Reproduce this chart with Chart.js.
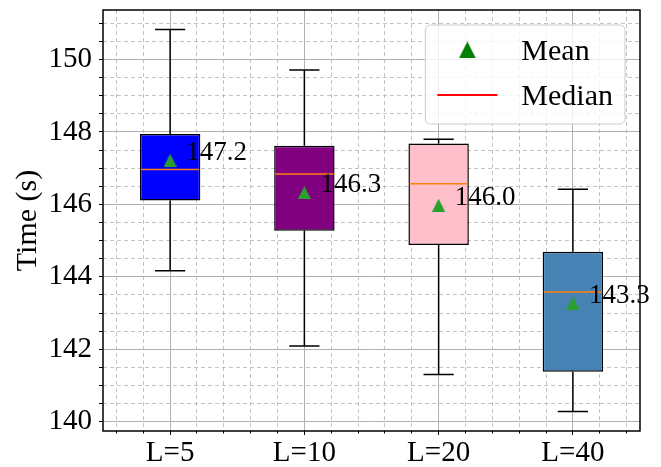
<!DOCTYPE html>
<html lang="en">
<head>
<meta charset="UTF-8">
<title>Time boxplot</title>
<script src="https://cdn.jsdelivr.net/npm/chart.js"></script>
<style>
  body { margin: 0; background: #fff; }
</style>
</head>
<body>
<canvas id="grafico" width="661" height="467"></canvas>
<script>
// dados
const categories = ['L=5', 'L=10', 'L=20', 'L=40']
const positions = [1, 2, 3, 4]
const whiskerLow = [144.17, 142.09, 141.30, 140.28]
const q1 = [146.11, 145.27, 144.88, 141.38]
const medians = [146.96, 146.84, 146.57, 143.58]
const q3 = [147.94, 147.62, 147.68, 144.69]
const whiskerHigh = [150.83, 149.71, 147.80, 146.42]
const means = [147.22, 146.33, 145.98, 143.27]
const boxColors = ['#0000ff', '#800080', '#ffc0cb', '#4682b4']
const legendLabels = ['Mean', 'Median']
const yTickLabels = [140, 142, 144, 146, 148, 150]

const serif = "'Liberation Serif', 'Times New Roman', serif"
Chart.defaults.font.family = serif
Chart.defaults.color = '#000'

// ticks menores (grade tracejada)
const yMinorTicks = []
for (let v = 140; v <= 151; v += 0.5) yMinorTicks.push(v)
const xMinorTicks = []
for (let k = 3; k <= 22; k++) { if (k % 5 !== 0) xMinorTicks.push(k / 5) }

function triangulo(size, color) {
  const c = document.createElement('canvas')
  c.width = size; c.height = size
  const g = c.getContext('2d')
  g.fillStyle = color
  g.beginPath()
  g.moveTo(size / 2, 0); g.lineTo(size, size); g.lineTo(0, size)
  g.closePath(); g.fill()
  return c
}
const meanMarker = triangulo(13, '#2ca02c')
const legendMarker = triangulo(17, '#008000')

const majorGrid = '#b0b0b0'
const minorGrid = 'rgba(176,176,176,0.75)'

const extras = {
  id: 'extras',
  afterDatasetsDraw(chart) {
    const ctx = chart.ctx, y = chart.scales.y, x = chart.scales.x
    const bars = chart.getDatasetMeta(1).data
    ctx.save()
    bars.forEach((bar, i) => {
      const half = bar.width / 2, cap = bar.width / 4
      ctx.strokeStyle = '#000'
      ctx.lineWidth = 1.5
      ctx.beginPath()
      ctx.moveTo(bar.x, y.getPixelForValue(whiskerHigh[i])); ctx.lineTo(bar.x, y.getPixelForValue(q3[i]))
      ctx.moveTo(bar.x, y.getPixelForValue(q1[i])); ctx.lineTo(bar.x, y.getPixelForValue(whiskerLow[i]))
      ctx.moveTo(bar.x - cap, y.getPixelForValue(whiskerHigh[i])); ctx.lineTo(bar.x + cap, y.getPixelForValue(whiskerHigh[i]))
      ctx.moveTo(bar.x - cap, y.getPixelForValue(whiskerLow[i])); ctx.lineTo(bar.x + cap, y.getPixelForValue(whiskerLow[i]))
      ctx.stroke()
      ctx.strokeStyle = '#ff7f0e'
      ctx.beginPath()
      ctx.moveTo(bar.x - half + 1, y.getPixelForValue(medians[i])); ctx.lineTo(bar.x + half - 1, y.getPixelForValue(medians[i]))
      ctx.stroke()
    })
    // moldura
    const a = chart.chartArea
    ctx.strokeStyle = '#000'
    ctx.lineWidth = 1.5
    ctx.strokeRect(a.left, a.top, a.right - a.left, a.bottom - a.top)
    // rotulos das medias
    ctx.fillStyle = '#000'
    ctx.font = '27px ' + serif
    ctx.textBaseline = 'alphabetic'
    ctx.textAlign = 'left'
    means.forEach((m, i) => {
      ctx.fillText(m.toFixed(1), x.getPixelForValue(positions[i] + 0.12), y.getPixelForValue(m))
    })
    ctx.restore()
  },
  afterDraw(chart) {
    const ctx = chart.ctx, a = chart.chartArea, fs = 30
    ctx.save()
    ctx.font = fs + 'px ' + serif
    const textW = Math.max(...legendLabels.map(t => ctx.measureText(t).width))
    const w = fs * 3.6 + textW, h = fs * 3.3
    const x0 = a.right - 0.5 * fs - w, y0 = a.top + 0.5 * fs
    ctx.beginPath()
    ctx.roundRect(x0, y0, w, h, 5)
    ctx.fillStyle = 'rgba(255,255,255,0.8)'
    ctx.fill()
    ctx.strokeStyle = '#cccccc'
    ctx.lineWidth = 1
    ctx.stroke()
    const hx = x0 + 0.4 * fs, tx = hx + 2.8 * fs
    const rows = [y0 + 0.83 * fs, y0 + 2.33 * fs]
    ctx.drawImage(legendMarker, hx + fs - legendMarker.width / 2, rows[0] - legendMarker.height / 2)
    ctx.strokeStyle = '#ff0000'
    ctx.lineWidth = 2
    ctx.beginPath()
    ctx.moveTo(hx, rows[1]); ctx.lineTo(hx + 2 * fs, rows[1])
    ctx.stroke()
    ctx.fillStyle = '#000'
    ctx.textBaseline = 'alphabetic'
    legendLabels.forEach((t, i) => ctx.fillText(t, tx, rows[i] + 0.35 * fs))
    ctx.restore()
  }
}

const ctx = document.getElementById('grafico')
new Chart(ctx, {
  type: 'bar',
  data: {
    datasets: [
      {
        type: 'line',
        label: legendLabels[0],
        data: positions.map((p, i) => ({ x: p, y: means[i] })),
        showLine: false,
        pointStyle: meanMarker,
        pointRadius: 6,
        xAxisID: 'x',
        order: 1
      },
      {
        label: 'box',
        data: positions.map((p, i) => ({ x: p, y: [q1[i], q3[i]] })),
        backgroundColor: boxColors,
        borderColor: '#000',
        borderWidth: 1.5,
        borderSkipped: false,
        barPercentage: 0.45,
        categoryPercentage: 1,
        xAxisID: 'x',
        order: 2
      }
    ]
  },
  options: {
    responsive: false,
    animation: false,
    layout: { padding: { top: 10, right: 21, left: 0, bottom: 0 } },
    plugins: { legend: { display: false }, tooltip: { enabled: false } },
    scales: {
      xMinor: {
        type: 'linear', position: 'bottom', weight: -1,
        min: 0.5, max: 4.5, offset: false,
        afterBuildTicks: s => { s.ticks = xMinorTicks.map(v => ({ value: v })) },
        afterFit: s => { s.height = 0; s.paddingLeft = 0; s.paddingRight = 0 },
        ticks: { display: false, autoSkip: false },
        grid: { offset: false, color: minorGrid, lineWidth: 1, tickLength: 2.5, tickColor: '#000', tickBorderDash: [] },
        border: { display: false, dash: [4, 3] }
      },
      x: {
        type: 'linear', position: 'bottom',
        min: 0.5, max: 4.5, offset: false,
        afterBuildTicks: s => { s.ticks = positions.map(v => ({ value: v })) },
        afterFit: s => { s.height = 36; s.paddingLeft = 0; s.paddingRight = 0 },
        ticks: {
          autoSkip: false, maxRotation: 0, padding: 1,
          font: { size: 29 },
          callback: v => categories[positions.indexOf(v)]
        },
        grid: { offset: false, color: majorGrid, lineWidth: 1, tickLength: 4, tickColor: '#000' },
        border: { display: false }
      },
      y: {
        type: 'linear', position: 'left',
        min: 139.743, max: 151.367,
        afterBuildTicks: s => { s.ticks = yMinorTicks.map(v => ({ value: v })) },
        afterFit: s => { s.width = 103; s.paddingTop = 0; s.paddingBottom = 0 },
        ticks: {
          autoSkip: false, padding: 7,
          font: { size: 29 },
          callback: v => yTickLabels.includes(v) ? String(v) : ''
        },
        grid: {
          color: c => (c.tick && c.tick.value % 2 === 0) ? majorGrid : minorGrid,
          lineWidth: 1, tickLength: 4, tickColor: '#000', tickBorderDash: []
        },
        border: { display: false, dash: c => (c.tick && c.tick.value % 2 === 0) ? [] : [4, 3] },
        title: { display: true, text: 'Time (s)', font: { size: 30 }, padding: { top: 10, bottom: 0 } }
      }
    }
  },
  plugins: [extras]
})
</script>
</body>
</html>
